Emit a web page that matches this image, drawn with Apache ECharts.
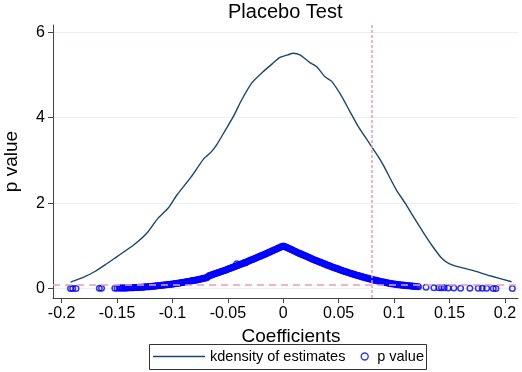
<!DOCTYPE html>
<html>
<head>
<meta charset="utf-8">
<title>Placebo Test</title>
<script src="https://cdn.jsdelivr.net/npm/echarts@6/dist/echarts.min.js"></script>
<style>
  html, body { margin: 0; padding: 0; background: #fff; }
  #chart { width: 522px; height: 372px; }
</style>
</head>
<body>
<div id="chart"></div>
<script>
// kdensity of the placebo estimates
var kdX = [-0.192, -0.180, -0.170, -0.160, -0.150, -0.135, -0.123, -0.113, -0.104, -0.096,
  -0.083, -0.072, -0.065, -0.060, -0.052, -0.045, -0.0375, -0.0285, -0.018, -0.010,
  -0.003, 0.004, 0.009, 0.015, 0.024, 0.030, 0.0376, 0.0437, 0.0527, 0.060,
  0.0677, 0.0767, 0.0857, 0.090, 0.102, 0.110, 0.1173, 0.126, 0.135, 0.143,
  0.150, 0.161, 0.173, 0.1865, 0.206]
var kdY = [0.15, 0.27, 0.40, 0.57, 0.75, 1.02, 1.30, 1.65, 1.88, 2.19,
  2.62, 3.03, 3.20, 3.37, 3.72, 4.03, 4.42, 4.81, 5.08, 5.26,
  5.41, 5.47, 5.51, 5.47, 5.29, 5.20, 4.96, 4.85, 4.50, 4.15,
  3.79, 3.44, 3.09, 2.90, 2.31, 2.00, 1.69, 1.33, 0.98, 0.71,
  0.58, 0.49, 0.41, 0.30, 0.16]

// placebo coefficients and their p values
var coef = [
  -0.192, -0.190, -0.187, -0.166, -0.164,
  -0.152, -0.150, -0.147, -0.145, -0.143, -0.141, -0.139, -0.137, -0.135, -0.133,
  -0.131, -0.129, -0.127, -0.125, -0.123, -0.121, -0.119, -0.117, -0.115, -0.113,
  -0.111, -0.109, -0.107, -0.105, -0.103, -0.101, -0.099, -0.097, -0.095, -0.093,
  -0.091, -0.089, -0.087, -0.085, -0.083, -0.081, -0.079, -0.077, -0.075, -0.073,
  -0.071, -0.069, -0.067, -0.065, -0.063, -0.061, -0.059, -0.057, -0.055, -0.053,
  -0.051, -0.049, -0.047, -0.045, -0.043, -0.041, -0.039, -0.037, -0.035, -0.033,
  -0.031, -0.029, -0.027, -0.025, -0.023, -0.021, -0.019, -0.017, -0.015, -0.013,
  -0.011, -0.009, -0.007, -0.005, -0.003, -0.001, -0.042, -0.0345,
  0.000, 0.001, 0.003, 0.005, 0.007, 0.009, 0.011, 0.013, 0.015, 0.017,
  0.019, 0.021, 0.023, 0.025, 0.027, 0.029, 0.031, 0.033, 0.035, 0.037,
  0.039, 0.041, 0.043, 0.045, 0.047, 0.049, 0.051, 0.053, 0.055, 0.057,
  0.059, 0.061, 0.063, 0.065, 0.067, 0.069, 0.071, 0.073, 0.075, 0.077,
  0.079, 0.081, 0.083, 0.085, 0.087, 0.089, 0.091, 0.093, 0.095, 0.097,
  0.099, 0.101, 0.103, 0.105, 0.107, 0.109, 0.111, 0.113, 0.115, 0.117,
  0.119, 0.121, 0.122,
  0.1288, 0.1359, 0.1404, 0.1428, 0.1452, 0.1488, 0.1539, 0.1600, 0.1684, 0.1759,
  0.1795, 0.1835, 0.1895, 0.1919, 0.2067]
var pValue = [
  0.003, 0.003, 0.004, 0.006, 0.006,
  0.010, 0.011, 0.012, 0.013, 0.014, 0.016, 0.018, 0.020, 0.022, 0.025,
  0.028, 0.031, 0.034, 0.037, 0.041, 0.045, 0.049, 0.054, 0.059, 0.064,
  0.070, 0.076, 0.082, 0.089, 0.096, 0.103, 0.110, 0.117, 0.125, 0.133,
  0.141, 0.150, 0.159, 0.168, 0.177, 0.187, 0.197, 0.207, 0.217, 0.228,
  0.240, 0.254, 0.300, 0.315, 0.333, 0.352, 0.370, 0.388, 0.406, 0.425,
  0.444, 0.463, 0.482, 0.502, 0.522, 0.542, 0.562, 0.582, 0.603, 0.624,
  0.645, 0.667, 0.688, 0.710, 0.732, 0.754, 0.777, 0.800, 0.822, 0.845,
  0.868, 0.891, 0.915, 0.938, 0.962, 0.986, 0.580, 0.600,
  1.000, 0.988, 0.963, 0.938, 0.914, 0.890, 0.866, 0.842, 0.818, 0.795,
  0.772, 0.749, 0.726, 0.704, 0.682, 0.660, 0.639, 0.618, 0.597, 0.576,
  0.555, 0.535, 0.515, 0.495, 0.476, 0.457, 0.439, 0.421, 0.403, 0.386,
  0.369, 0.352, 0.336, 0.320, 0.304, 0.289, 0.274, 0.259, 0.245, 0.231,
  0.217, 0.204, 0.191, 0.179, 0.167, 0.156, 0.145, 0.135, 0.125, 0.116,
  0.108, 0.100, 0.093, 0.086, 0.080, 0.074, 0.069, 0.064, 0.059, 0.055,
  0.051, 0.047, 0.045,
  0.030, 0.022, 0.019, 0.018, 0.017, 0.015, 0.013, 0.011, 0.009, 0.007,
  0.007, 0.006, 0.005, 0.005, 0.003]

// second layer of estimates that thickens the band
var coefB = [
  -0.148, -0.146, -0.144, -0.142, -0.140, -0.138, -0.136, -0.134, -0.132, -0.130,
  -0.128, -0.126, -0.124, -0.122, -0.120, -0.118, -0.116, -0.114, -0.112, -0.110,
  -0.108, -0.106, -0.104, -0.102, -0.100, -0.098, -0.096, -0.094, -0.092, -0.090,
  -0.088, -0.086, -0.084, -0.082, -0.080, -0.078, -0.076, -0.074, -0.072, -0.070,
  -0.068, -0.066, -0.064, -0.062, -0.060, -0.058, -0.056, -0.054, -0.052, -0.050,
  -0.048, -0.046, -0.044, -0.042, -0.040, -0.038, -0.036, -0.034, -0.032, -0.030,
  -0.028, -0.026, -0.024, -0.022, -0.020, -0.018, -0.016, -0.014, -0.012, -0.010,
  -0.008, -0.006, -0.004, -0.002,
  0.002, 0.004, 0.006, 0.008, 0.010, 0.012, 0.014, 0.016, 0.018, 0.020,
  0.022, 0.024, 0.026, 0.028, 0.030, 0.032, 0.034, 0.036, 0.038, 0.040,
  0.042, 0.044, 0.046, 0.048, 0.050, 0.052, 0.054, 0.056, 0.058, 0.060,
  0.062, 0.064, 0.066, 0.068, 0.070, 0.072, 0.074, 0.076, 0.078, 0.080,
  0.082, 0.084, 0.086, 0.088, 0.090, 0.092, 0.094, 0.096, 0.098, 0.100,
  0.102, 0.104, 0.106, 0.108, 0.110, 0.112, 0.114, 0.116, 0.118, 0.120]
var pValueB = [
  0.013, 0.014, 0.015, 0.016, 0.018, 0.020, 0.022, 0.025, 0.028, 0.031,
  0.034, 0.038, 0.041, 0.045, 0.049, 0.054, 0.059, 0.064, 0.070, 0.076,
  0.082, 0.089, 0.096, 0.103, 0.110, 0.118, 0.126, 0.134, 0.142, 0.151,
  0.160, 0.169, 0.178, 0.188, 0.198, 0.208, 0.219, 0.230, 0.243, 0.256,
  0.275, 0.312, 0.328, 0.346, 0.364, 0.382, 0.400, 0.419, 0.438, 0.457,
  0.477, 0.497, 0.517, 0.537, 0.557, 0.577, 0.598, 0.619, 0.640, 0.662,
  0.683, 0.705, 0.727, 0.749, 0.772, 0.795, 0.818, 0.841, 0.864, 0.887,
  0.911, 0.934, 0.958, 0.982,
  0.980, 0.955, 0.931, 0.907, 0.883, 0.859, 0.836, 0.813, 0.790, 0.767,
  0.745, 0.722, 0.700, 0.678, 0.657, 0.636, 0.615, 0.594, 0.573, 0.553,
  0.533, 0.513, 0.494, 0.475, 0.456, 0.438, 0.420, 0.402, 0.385, 0.368,
  0.352, 0.336, 0.320, 0.305, 0.290, 0.275, 0.261, 0.247, 0.233, 0.219,
  0.206, 0.193, 0.181, 0.169, 0.158, 0.147, 0.137, 0.127, 0.118, 0.110,
  0.102, 0.095, 0.088, 0.082, 0.076, 0.070, 0.065, 0.060, 0.056, 0.052]

var xTicks = [-0.2, -0.15, -0.1, -0.05, 0, 0.05, 0.1, 0.15, 0.2]
var yTicks = [0, 2, 4, 6]
var trueCoef = 0.078   // vertical reference line
var pCut = 0.1         // horizontal reference line

var font = '"Liberation Sans", Arial, Helvetica, sans-serif'
var kdData = kdX.map(function (x, i) { return [x, kdY[i]] })
var pData = coef.map(function (x, i) { return [x, pValue[i]] })
  .concat(coefB.map(function (x, i) { return [x, pValueB[i]] }))

var chart = echarts.init(document.getElementById('chart'))
var option = {
  backgroundColor: '#fff',
  animation: false,
  title: {
    text: 'Placebo Test',
    left: 228,
    top: 2,
    padding: 0,
    textStyle: { color: '#000', fontSize: 20, fontWeight: 'normal', fontFamily: font }
  },
  grid: { left: 53, right: 4, top: 25, bottom: 74, containLabel: false, outerBoundsMode: 'none' },
  xAxis: {
    type: 'value',
    min: -0.2078,
    max: 0.2118,
    name: 'Coefficients',
    nameLocation: 'middle',
    nameGap: 21,
    nameTextStyle: { color: '#000', fontSize: 19, fontFamily: font, padding: [0, 0, 0, 11] },
    axisLine: { onZero: false, lineStyle: { color: '#444', width: 1 } },
    axisTick: { customValues: xTicks, length: 5, lineStyle: { color: '#444' } },
    axisLabel: { customValues: xTicks, margin: 8, color: '#000', fontSize: 16, fontFamily: font },
    splitLine: { show: false }
  },
  yAxis: {
    type: 'value',
    min: -0.22,
    max: 6.17,
    name: 'p value',
    nameLocation: 'middle',
    nameGap: 32,
    nameRotate: 90,
    nameTextStyle: { color: '#000', fontSize: 19, fontFamily: font },
    axisLine: { show: true, onZero: false, lineStyle: { color: '#444', width: 1 } },
    axisTick: { show: true, customValues: yTicks, length: 5, lineStyle: { color: '#444' } },
    axisLabel: { customValues: yTicks, margin: 8, color: '#000', fontSize: 16, fontFamily: font },
    splitLine: { show: true, lineStyle: { color: '#e8f0f3', width: 1 } }
  },
  legend: [
    {
      left: 153,
      top: 349,
      padding: 0,
      itemWidth: 52,
      itemHeight: 14,
      symbolKeepAspect: true,
      data: [{ name: 'kdensity of estimates', icon: 'path://M0,0L100,0L100,3L0,3Z' }],
      textStyle: { color: '#000', fontSize: 14.5, fontFamily: font }
    },
    {
      left: 360.5,
      top: 349,
      padding: 0,
      itemWidth: 7,
      itemHeight: 14,
      data: [{ name: 'p value', icon: 'circle' }],
      itemStyle: { borderWidth: 1.4 },
      textStyle: { color: '#000', fontSize: 14.5, fontFamily: font, padding: [0, 0, 0, 4] }
    }
  ],
  graphic: [{
    type: 'rect',
    shape: { x: 149.5, y: 344.5, width: 277, height: 25 },
    style: { fill: 'none', stroke: '#333', lineWidth: 1 },
    silent: true
  }],
  series: [
    {
      name: 'refLines',
      type: 'line',
      data: [],
      z: 1,
      silent: true,
      markLine: {
        silent: true,
        symbol: 'none',
        label: { show: false },
        animation: false,
        data: [
          { xAxis: trueCoef, lineStyle: { color: '#e6a0b3', type: [3, 2], width: 1.5 } },
          { yAxis: pCut, lineStyle: { color: '#e6a0b3', type: [7, 5], width: 1.5 } }
        ]
      }
    },
    {
      name: 'kdensity of estimates',
      type: 'line',
      data: kdData,
      smooth: 0.2,
      symbol: 'none',
      showSymbol: false,
      z: 3,
      lineStyle: { color: '#1a476f', width: 1.4 },
      itemStyle: { color: '#1a476f' }
    },
    {
      name: 'p value',
      type: 'scatter',
      data: pData,
      symbol: 'circle',
      symbolSize: 5.5,
      z: 4,
      itemStyle: { color: 'rgba(0,0,255,0)', borderColor: '#0000ff', borderWidth: 1.5 }
    }
  ]
}
chart.setOption(option)
</script>
</body>
</html>
